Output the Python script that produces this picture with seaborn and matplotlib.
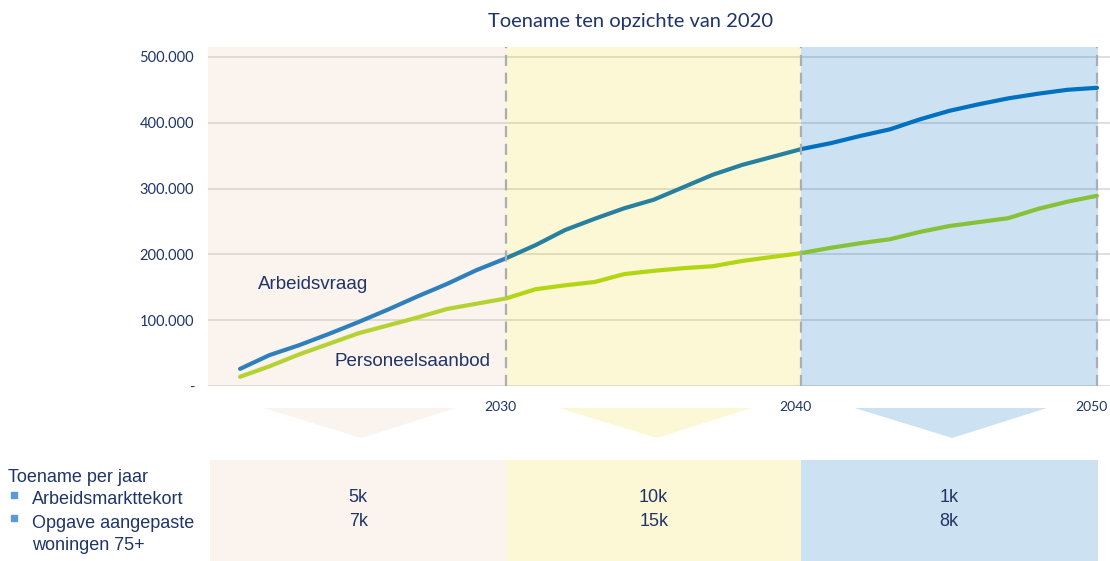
import pandas as pd
import seaborn as sns
import matplotlib.pyplot as plt
from matplotlib.ticker import FuncFormatter
from matplotlib.transforms import ScaledTranslation

# data
jaren = list(range(2021, 2051))
arbeidsvraag = [26000, 47000, 62000, 79000, 97000, 116000, 136000, 155000, 176000, 194000,
                214000, 237000, 254000, 270000, 283000, 302000, 321000, 336000, 348000, 360000,
                369000, 380000, 390000, 405000, 418000, 428000, 437000, 444000, 450000, 453000]
personeelsaanbod = [14000, 30000, 48000, 64000, 80000, 92000, 104000, 117000, 125000, 133000,
                    147000, 153000, 158000, 170000, 175000, 179000, 182000, 190000, 196000, 202000,
                    210000, 217000, 223000, 234000, 243000, 249000, 255000, 269000, 280000, 289000]
grenzen = [2030, 2040, 2050]
periode_start = [2020, 2030, 2040]
tekort_per_jaar = ['5k', '10k', '1k']
woningen_per_jaar = ['7k', '15k', '8k']

df = pd.DataFrame({'jaar': jaren * 2,
                   'waarde': arbeidsvraag + personeelsaanbod,
                   'reeks': ['Arbeidsvraag'] * len(jaren) + ['Personeelsaanbod'] * len(jaren)})

navy = '#1F3468'
# overlay colours (colour, alpha) per period, drawn on top of the lines
overlays = [('#EBC3AA', 0.2), ('#F3D400', 0.17), ('#0070C0', 0.2)]

sns.set_theme(style='white')
plt.rcParams['font.family'] = ['Lato', 'DejaVu Sans']

W, H = 1110, 561
fig = plt.figure(figsize=(W / 100, H / 100), dpi=100)
px_left, px_right, px_top, px_bottom = 208, 1110, 47, 386
ax = fig.add_axes([px_left / W, (H - px_bottom) / H, (px_right - px_left) / W, (px_bottom - px_top) / H])

ppy = 29.55  # pixels per year
x0 = 2030 - (506 - px_left) / ppy
x1 = 2050 + (px_right - 1097) / ppy

sns.lineplot(data=df, x='jaar', y='waarde', hue='reeks',
             palette={'Arbeidsvraag': '#0070C0', 'Personeelsaanbod': '#A7D716'},
             linewidth=3, legend=False, ax=ax, zorder=2)
for l in ax.lines:
    l.set_solid_capstyle('round')

for yv in range(0, 500001, 100000):
    ax.axhline(yv, color='#D6D6D6', lw=1.1, zorder=1)

ends = [x0, 2030, 2040, 2050.05]
for i, (c, a) in enumerate(overlays):
    ax.axvspan(ends[i], ends[i + 1], color=c, alpha=a, lw=0, zorder=3)

for g in grenzen:
    ax.axvline(g, color='#A9AEB6', lw=1.6, ls=(0, (5, 3)), zorder=4)

ax.set_xlim(x0, x1)
ax.set_ylim(0, 515000)
ax.set_xticks(grenzen)
ax.set_yticks(range(0, 500001, 100000))
ax.yaxis.set_major_formatter(FuncFormatter(lambda v, p: '-' if v == 0 else f'{int(v):,}'.replace(',', '.')))
ax.tick_params(axis='y', length=0, pad=10, labelsize=10.5, labelcolor=navy)
ax.tick_params(axis='x', length=0, pad=11, labelsize=10, labelcolor=navy)
shift = ScaledTranslation(-6 / 100, 0, fig.dpi_scale_trans)
for lab in ax.get_xticklabels():
    lab.set_transform(lab.get_transform() + shift)
ax.set_xlabel('')
ax.set_ylabel('')
for s in ax.spines.values():
    s.set_visible(False)

ax.text(2021.6, 153500, 'Arbeidsvraag', family='Liberation Sans', fontsize=13.5, color=navy,
        va='center', ha='left', zorder=5)
ax.text(2024.2, 36500, 'Personeelsaanbod', family='Liberation Sans', fontsize=13.5, color=navy,
        va='center', ha='left', zorder=5)

fig.text(631 / W, 1 - 22 / H, 'Toename ten opzichte van 2020', ha='center', va='center',
         fontsize=14.5, color=navy)

# lower part: triangles and table
ax2 = fig.add_axes([px_left / W, 0, (px_right - px_left) / W, (H - 395) / H])
ax2.set_xlim(x0, x1)
ax2.set_ylim(0, H - 395)
ax2.axis('off')
for i, (c, a) in enumerate(overlays):
    s = periode_start[i]
    e = ends[i + 1]
    ax2.fill_between([max(s, x0), e], 0, H - 460, color=c, alpha=a, lw=0)
    mid = s + 5
    ax2.fill([mid - 3.2, mid + 3.3, mid + 0.1], [H - 408, H - 408, H - 438], color=c, alpha=a, lw=0)
    ax2.text(mid, H - 498, tekort_per_jaar[i], ha='center', va='center', family='Liberation Sans',
             fontsize=13, color=navy)
    ax2.text(mid, H - 521, woningen_per_jaar[i], ha='center', va='center', family='Liberation Sans',
             fontsize=13, color=navy)

left_lines = [('Toename per jaar', 8, 477, False), ('Arbeidsmarkttekort', 32, 500, True),
              ('Opgave aangepaste', 32, 523, True), ('woningen 75+', 32, 546, False)]
for txt, xp, yp, bullet in left_lines:
    fig.text(xp / W, 1 - yp / H, txt, ha='left', va='center', family='Liberation Sans',
             fontsize=13, color=navy)
    if bullet:
        fig.patches.append(plt.Rectangle((11 / W, 1 - (yp - 2) / H), 6 / W, 6 / H,
                                         transform=fig.transFigure, color='#5B9BD5', figure=fig))

fig.savefig('out.png', dpi=100)
